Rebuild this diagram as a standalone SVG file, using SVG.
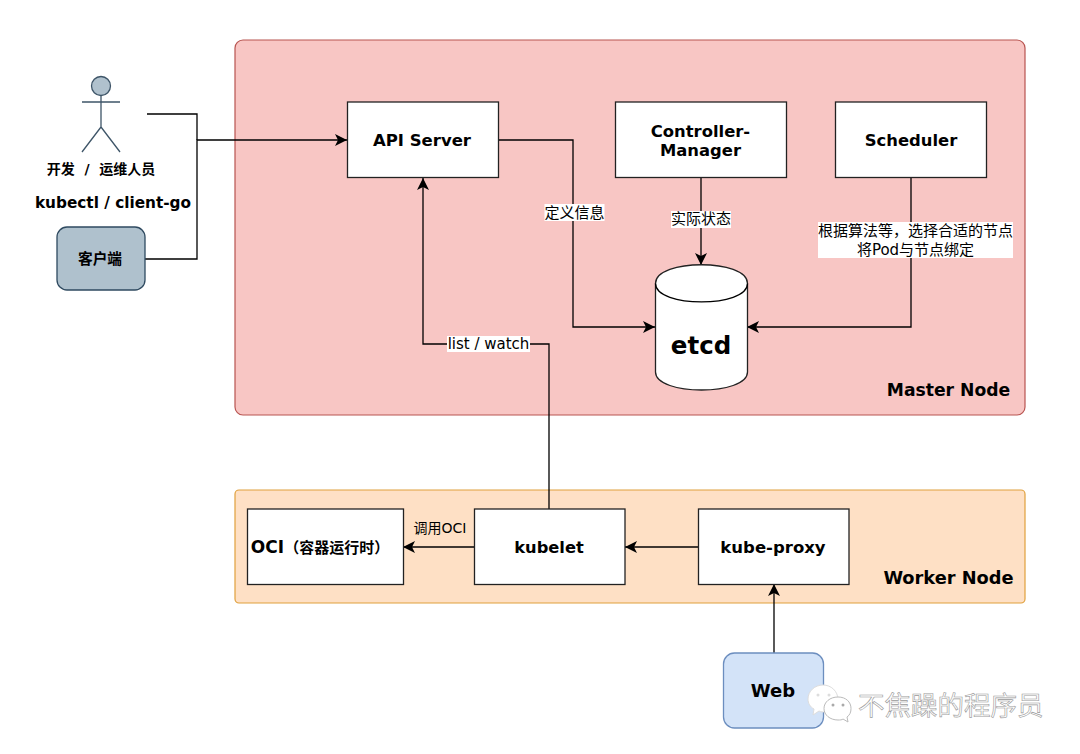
<svg xmlns="http://www.w3.org/2000/svg" width="1080" height="754" viewBox="0 0 1080 754">
<style>
text{font-family:"DejaVu Sans","Noto Sans CJK SC",sans-serif;fill:#000;text-anchor:middle}
.b{font-weight:700}
.n{fill:#fff;stroke:#222;stroke-width:1.3}
.c{fill:none;stroke:#000;stroke-width:1.3}
.lbl{font-size:15px}
.bg{fill:#fff}
.wm{font-family:"Noto Sans CJK SC",sans-serif;font-size:26.500px;fill:#fff;stroke:#999;stroke-width:.6;text-anchor:start}
</style>
<defs>
<marker id="a" markerWidth="12" markerHeight="12" refX="10" refY="5" orient="auto" markerUnits="userSpaceOnUse" viewBox="0 0 10 10"><path d="M0 0L10 5L0 10L2.500 5Z" fill="#000"/></marker>
</defs>
<rect width="1080" height="754" fill="#fff"/>
<g id="master"><rect x="235" y="40" width="790" height="375" rx="8" fill="#f8c6c4" stroke="#b85450" stroke-width="1.2"/><text class="b" x="948.500" y="396" font-size="17.200px">Master Node</text></g>
<g id="worker"><rect x="235" y="490" width="790" height="113" rx="4" fill="#fee0c5" stroke="#e0a03c" stroke-width="1.2"/><text class="b" x="948.500" y="584" font-size="17.800px">Worker Node</text></g>
<g id="connectors">
<path class="c" d="M147 114H197V140" />
<path class="c" d="M145 259H197V140H347" marker-end="url(#a)"/>
<path class="c" d="M498 140H573V327H655" marker-end="url(#a)"/>
<path class="c" d="M701 178V265" marker-end="url(#a)"/>
<path class="c" d="M911 178V327H747" marker-end="url(#a)"/>
<path class="c" d="M549 509V344H423V178" marker-end="url(#a)"/>
<path class="c" d="M474 547H403" marker-end="url(#a)"/>
<path class="c" d="M698 547H625" marker-end="url(#a)"/>
<path class="c" d="M774 653V584" marker-end="url(#a)"/>
<rect class="bg" x="544.500" y="204" width="60" height="17"/><text class="lbl" x="574.500" y="218">定义信息</text>
<rect class="bg" x="671" y="211" width="60" height="17"/><text class="lbl" x="701" y="224">实际状态</text>
<rect class="bg" x="818" y="222" width="195" height="36"/><text class="lbl" x="915.500" y="236">根据算法等&#xFF0C;选择合适的节点</text><text class="lbl" x="915.500" y="255">将Pod与节点绑定</text>
<rect class="bg" x="447" y="336" width="83" height="16"/><text class="lbl" x="488.500" y="349">list / watch</text>
<text x="440" y="533" font-size="14px">调用OCI</text>
</g>
<g id="actor" fill="#b0c1cd" stroke="#3e5568" stroke-width="1.3"><circle cx="101" cy="86" r="9.500"/><path fill="none" d="M101 96V127M82 102H120M101 127L82 152M101 127L120 152"/></g>
<g id="actor-labels"><text class="b" x="101" y="174" font-size="14px">开发&#160;&#160;/&#160;&#160;运维人员</text><text class="b" x="113" y="208" font-size="15.300px">kubectl / client-go</text></g>
<g id="client"><rect x="57" y="227" width="88" height="63" rx="10" fill="#afc1cd" stroke="#2f4a60" stroke-width="1.3"/><text class="b" x="100" y="264" font-size="14.700px">客户端</text></g>
<g id="api-server"><rect class="n" x="347.500" y="102" width="151" height="75.500"/><text class="b" x="422" y="146" font-size="16.500px">API Server</text></g>
<g id="controller-manager"><rect class="n" x="615.500" y="102" width="171" height="75.500"/><text class="b" x="700.500" y="137" font-size="16.400px">Controller-</text><text class="b" x="700.500" y="156" font-size="16.400px">Manager</text></g>
<g id="scheduler"><rect class="n" x="835.500" y="102" width="151" height="75.500"/><text class="b" x="911" y="146" font-size="16.400px">Scheduler</text></g>
<g id="etcd"><path class="n" d="M655.500 283.500C655.500 258.500 747.500 258.500 747.500 283.500V372C747.500 396 655.500 396 655.500 372Z"/><path class="c" d="M655.500 283.500C655.500 308 747.500 308 747.500 283.500"/><text class="b" x="701" y="354" font-size="24.500px">etcd</text></g>
<g id="oci"><rect class="n" x="247.500" y="509" width="156" height="75.500"/><text class="b" x="320" y="553" font-size="15px"><tspan font-size="17px">OCI</tspan>&#xFF08;容器运行时&#xFF09;</text></g>
<g id="kubelet"><rect class="n" x="474.500" y="509" width="150.500" height="75.500"/><text class="b" x="549" y="553" font-size="16.300px">kubelet</text></g>
<g id="kube-proxy"><rect class="n" x="698.500" y="509" width="150.500" height="75.500"/><text class="b" x="773" y="553" font-size="16.500px">kube-proxy</text></g>
<g id="web"><rect x="723.500" y="653" width="100" height="75" rx="11" fill="#d3e3f8" stroke="#6c8ebf" stroke-width="1.3"/><text class="b" x="773" y="697" font-size="18px">Web</text></g>
<g id="watermark"><path d="M823 685C815 685 808 691 808 699C808 703 810 707 814 709L813 715L819 711C821 712 823 712 825 712L838 700C838 691 831 685 823 685Z" fill="#fff" stroke="#ddd"/><path d="M838 697C830 697 824 702 824 708.500C824 715 830 720 838 720C840 720 842 720 843 719L848 722L847 717C850 715 851 712 851 708.500C851 702 846 697 838 697Z" fill="#fff" stroke="#bbb"/><circle cx="833" cy="705" r="1.500" fill="#aaa"/><circle cx="843" cy="705" r="1.500" fill="#aaa"/><circle cx="818" cy="695" r="1.500" fill="#ddd"/><circle cx="829" cy="695" r="1.500" fill="#ddd"/><text class="wm" x="858" y="715">不焦躁的程序员</text></g>
</svg>
